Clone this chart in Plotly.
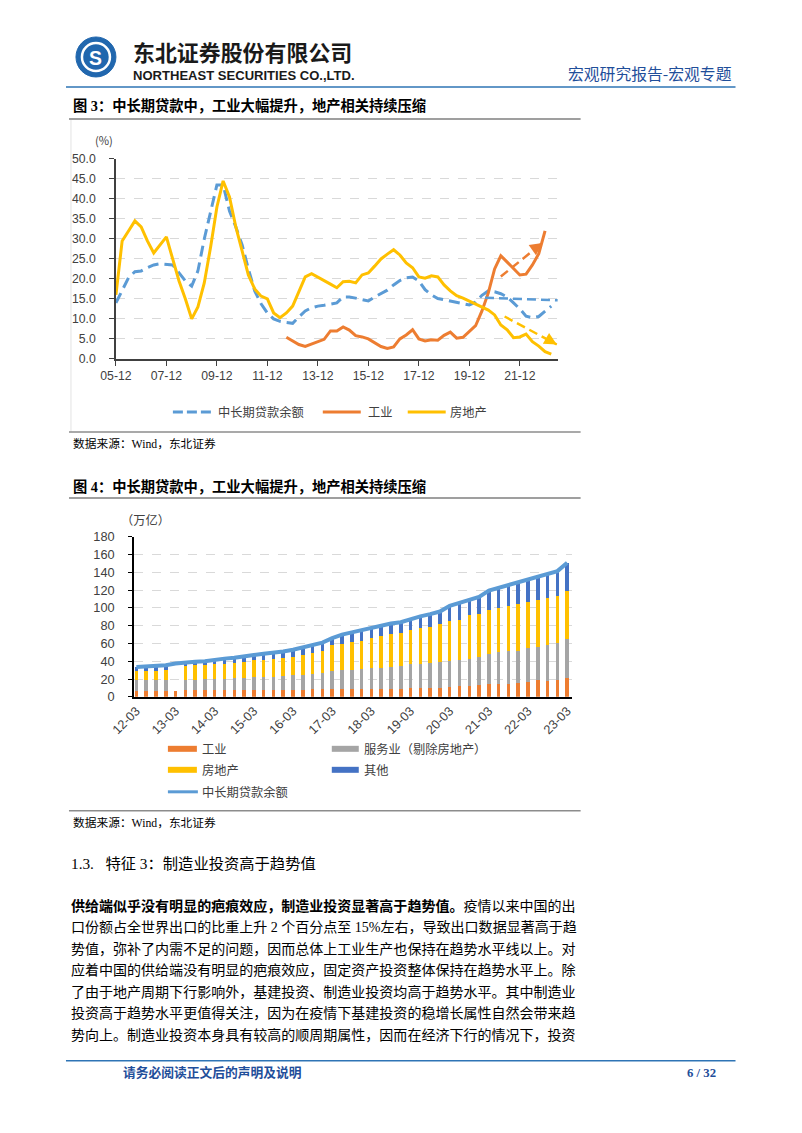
import plotly.graph_objects as go

W, H = 802, 1133

# ---------------- Chart 1 data (quarterly, 2005-12 .. 2023-03) ----------------
q_dates = [f"{2005 + (11 + 3 * i) // 12}-{(11 + 3 * i) % 12 + 1:02d}-01" for i in range(70)]
c1_ticks = ["2005-12-01", "2007-12-01", "2009-12-01", "2011-12-01", "2013-12-01",
            "2015-12-01", "2017-12-01", "2019-12-01", "2021-12-01"]

loan_growth = [14, 17, 20.3, 21.8, 22, 22.8, 23.5, 23.8, 23.7, 23.5,
               21.5, 19.5, 18.2, 22, 30, 37, 43.5, 43.5, 37, 33,
               28.5, 22.5, 17, 13.8, 11.5, 10, 9.4, 9.1, 8.9, 10.5,
               12, 12.8, 13.2, 13.4, 13.7, 14, 15.5, 15.5, 15.2, 14.8,
               14.5, 15.5, 16.4, 17.2, 18.5, 19.6, 20.3, 20.5, 19.5, 17.3,
               16, 15.1, 14.8, 14.5, 14.2, 13.8, 13.5, 14.2, 15.9, 17,
               16.8, 16.3, 15.5, 14, 12.5, 10.7, 10.3, 10.6, 12, 13.2]

industry_growth = [None] * 27 + [
    5.4, 4.5, 3.6, 3.1, 3.7, 4.2, 4.9, 7, 7, 8,
    7.2, 5.8, 5.5, 5, 4, 3.1, 2.6, 3, 5, 6,
    7.3, 5, 4.5, 4.8, 4.7, 5.9, 6.7, 5.2, 5.4, 6.8,
    8.3, 12, 16.5, 22.5, 25.8, 24.2, 22.5, 21, 21.2, 23.5,
    26.3, 32] + [None]

realestate_growth = [16, 29.5, 32, 34.5, 33, 29.5, 26.5, 28.5, 30.5, 25,
                     19.5, 15, 10, 13, 19, 28, 38, 44.5, 40.5, 33,
                     27, 21, 17.5, 15.7, 15, 11.5, 10.3, 11.5, 13.2, 17,
                     20.5, 21.3, 20.5, 19.5, 18.7, 17.8, 19.3, 19.4, 19, 21,
                     21.5, 23.2, 25, 26.2, 27.3, 26, 24, 22.8, 20.5, 20.2,
                     20.8, 20.5, 18.5, 17, 15.8, 15.2, 14.5, 13.8, 13, 12.2,
                     11, 8.5, 7.3, 5.3, 5.5, 6.2, 4.3, 3.2, 1.8, 1.2]

# trend arrows (tail -> head)
arrows = [
    dict(x0="2020-07-15", y0=15.3, x1="2023-08-15", y1=14.6, color="#5B9BD5", ax=-8, ay=0),
    dict(x0="2021-03-01", y0=20.6, x1="2022-10-25", y1=29.0, color="#ED7D31", ax=-7, ay=5),
    dict(x0="2021-04-25", y0=10.6, x1="2023-05-20", y1=3.6, color="#FFC000", ax=-7, ay=-4),
]

# ---------------- Chart 2 data (quarterly, 12-03 .. 23-03) ----------------
q_labels = [f"{12 + i // 4:02d}-{3 * (i % 4) + 3:02d}" for i in range(45)]
c2_ticks = q_labels[::4]

industry = [7, 7, 7, 7, 7, 7.5, 7.5, 7.5, 7.5, 8,
            8, 8, 8, 8, 8, 8, 8, 8, 8.5, 8.5,
            8.5, 8.5, 8.5, 8.5, 8.5, 8.5, 8.5, 8.5, 9.5, 9.5,
            10, 10.5, 11, 12, 12.5, 13, 14, 14, 15, 16,
            17, 18.5, 18, 19, 21]
services = [11.5, 11.5, 11.5, 11.5, None, 12, 12, 12.5, 12.5, 12.5,
            13, 13.5, 14, 14, 14.5, 15.5, 16.5, 17, 17.5, 18.5,
            20.5, 21.5, 22, 23, 23.5, 24, 25, 26, 27, 27.5,
            28, 28.5, 29, 29.5, 30.5, 31.5, 34, 36, 36.5, 36,
            38, 38, 40.5, 42, 44]
realestate = [11, 11, 11, 11.5, None, 15, 16, 15.5, 16.5, 17,
              17, 18, 19, 20, 20.5, 20.5, 20.5, 22, 23, 25,
              29, 30, 31, 31.5, 34.5, 36, 37, 37.5, 39, 40,
              41, 42.5, 45, 45.5, 49, 48.5, 49.5, 50.5, 50.5, 52.5,
              51.5, 53, 53, 52.5, 54]
others = [4, 4.5, 5.5, 5.5, None, 4.5, 4, 4.5, 5.5, 5.5,
          6, 5.5, 6, 6.5, 6.5, 7, 8, 8.5, 8.5, 9,
          8, 10, 11, 12, 11.5, 11.5, 12, 12, 12, 13.5,
          14, 14.5, 17.5, 18.5, 17, 19.5, 22, 22, 23.5, 24,
          25.5, 25.5, 26.5, 28, 32]
total_loans = [33.5, 34, 35, 35.5, 37.5, 39, 39.5, 40, 42, 43,
               44, 45, 47, 48.5, 49.5, 51, 53, 55.5, 57.5, 61,
               66, 70, 72.5, 75, 78, 80, 82.5, 84, 87.5, 90.5,
               93, 96, 102.5, 105.5, 109, 112.5, 119.5, 122.5, 125.5, 128.5,
               132, 135, 138, 141.5, 151]

# ---------------- colours / fonts ----------------
BLUE_L = "#5B9BD5"
ORANGE = "#ED7D31"
YELLOW = "#FFC000"
GRAY = "#A5A5A5"
BLUE_D = "#4472C4"
NAVY = "#1F4E9A"
TXT = "Liberation Serif, Noto Sans CJK SC"
CJK = "Noto Sans CJK SC"
ARIAL = "Liberation Sans"

# page-placement calibration (target picture pixel -> figure fraction)
SX, OX = 0.967, 24.0
SY, OY = 0.987, 6.0
FS = 1.02


def px(x):
    return ((x - OX) / SX) / W


def py(y):
    return 1 - ((y - OY) / SY) / H


def fs(s):
    return round(s * FS, 2)


fig = go.Figure()

# chart 1 traces
fig.add_trace(go.Scatter(x=q_dates, y=loan_growth, mode="lines", name="中长期贷款余额",
                         line=dict(color=BLUE_L, width=3, dash="11px,6px"),
                         xaxis="x", yaxis="y", showlegend=False))
fig.add_trace(go.Scatter(x=q_dates, y=industry_growth, mode="lines", name="工业",
                         line=dict(color=ORANGE, width=3), xaxis="x", yaxis="y",
                         showlegend=False))
fig.add_trace(go.Scatter(x=q_dates, y=realestate_growth, mode="lines", name="房地产",
                         line=dict(color=YELLOW, width=3), xaxis="x", yaxis="y",
                         showlegend=False))

# chart 2 traces
for vals, col, nm in [(industry, ORANGE, "工业"), (services, GRAY, "服务业（剔除房地产）"),
                      (realestate, YELLOW, "房地产"), (others, BLUE_D, "其他")]:
    fig.add_trace(go.Bar(x=q_labels, y=vals, marker=dict(color=col, line=dict(width=0)),
                         name=nm, xaxis="x2", yaxis="y2", showlegend=False))
fig.add_trace(go.Scatter(x=q_labels, y=total_loans, mode="lines", name="中长期贷款余额",
                         line=dict(color=BLUE_L, width=4), xaxis="x2", yaxis="y2",
                         showlegend=False))

shapes = []
ann = []


def hline(x0, x1, y, color, width=1.5, dash="solid"):
    shapes.append(dict(type="line", xref="paper", yref="paper", x0=px(x0), x1=px(x1),
                       y0=py(y), y1=py(y), line=dict(color=color, width=width, dash=dash)))


def vline(x, y0, y1, color, width=1):
    shapes.append(dict(type="line", xref="paper", yref="paper", x0=px(x), x1=px(x),
                       y0=py(y0), y1=py(y1), line=dict(color=color, width=width)))


def rect(x0, x1, y0, y1, color):
    shapes.append(dict(type="rect", xref="paper", yref="paper", x0=px(x0), x1=px(x1),
                       y0=py(y1), y1=py(y0), fillcolor=color, line=dict(width=0)))


def text(x, y, s, size=12, color="#000000", family=TXT, xanchor="left"):
    ann.append(dict(xref="paper", yref="paper", x=px(x), y=py(y), text=s, showarrow=False,
                    xanchor=xanchor, yanchor="middle",
                    font=dict(family=family, size=fs(size), color=color)))


# ---------------- header ----------------
shapes.append(dict(type="circle", xref="paper", yref="paper", x0=px(75), x1=px(115),
                   y0=py(75), y1=py(35), fillcolor="#2167AE", line=dict(color="#2167AE", width=1)))
shapes.append(dict(type="circle", xref="paper", yref="paper", x0=px(81), x1=px(109),
                   y0=py(69), y1=py(41), line=dict(color="white", width=2.5)))
text(95, 56, "<b>S</b>", 19, "white", ARIAL, "center")
text(130, 50, "<b>东北证券股份有限公司</b>", 21.5, "#1a1a1a", CJK)
text(130, 74, "<b>NORTHEAST SECURITIES CO.,LTD.</b>", 12.8, "#1a1a1a", ARIAL)
text(733, 72, "宏观研究报告-宏观专题", 15.5, NAVY, CJK, "right")
hline(65, 735, 85, "#2E74B5", 1.5)

# ---------------- figure 3 ----------------
text(70, 104, "<b>图 3：中长期贷款中，工业大幅提升，地产相关持续压缩</b>", 14, "#000000")
hline(68, 580, 117, "#7f7f7f", 1.5)
vline(70, 118, 430, "#e3e3e3", 1)
hline(68, 580, 430, "#8c8c8c", 1.5)
text(103, 138, "(%)", 11, "#404040", CJK, "center")

# chart 1 legend
hline(172, 210, 410, BLUE_L, 3, "10px,4px")
text(215, 410, "中长期贷款余额", 12, "#404040", CJK)
hline(322, 360, 410, ORANGE, 3)
text(365, 410, "工业", 12, "#404040", CJK)
hline(407, 445, 410, YELLOW, 3)
text(447, 410, "房地产", 12, "#404040", CJK)
text(70, 442, "数据来源：Wind，东北证券", 11.5, "#000000")

# trend arrows (dashed shafts + arrowheads)
for a in arrows:
    shapes.append(dict(type="line", xref="x", yref="y", x0=a["x0"], y0=a["y0"],
                       x1=a["x1"], y1=a["y1"], line=dict(color=a["color"], width=2.5, dash="9px,5px")))
    ann.append(dict(xref="x", yref="y", x=a["x1"], y=a["y1"], ax=a["ax"], ay=a["ay"],
                    text="", showarrow=True, arrowhead=2, arrowsize=1, arrowwidth=2.5,
                    arrowcolor=a["color"], standoff=0))

# ---------------- figure 4 ----------------
text(70, 485, "<b>图 4：中长期贷款中，工业大幅提升，地产相关持续压缩</b>", 14, "#000000")
hline(68, 580, 496, "#7f7f7f", 1.5)
text(118, 518, "（万亿）", 12, "#404040", CJK)

# chart 2 legend
rect(167, 196, 744, 750, ORANGE)
text(199, 747, "工业", 12, "#404040", CJK)
rect(331, 358, 744, 750, GRAY)
text(361, 747, "服务业（剔除房地产）", 12, "#404040", CJK)
rect(167, 196, 765, 771, YELLOW)
text(199, 768, "房地产", 12, "#404040", CJK)
rect(331, 358, 765, 771, BLUE_D)
text(361, 768, "其他", 12, "#404040", CJK)
hline(167, 197, 790, BLUE_L, 3)
text(199, 790, "中长期贷款余额", 12, "#404040", CJK)
hline(68, 580, 809, "#8c8c8c", 1.5)
text(70, 821, "数据来源：Wind，东北证券", 11.5, "#000000")

# ---------------- body text ----------------
text(68, 862, "1.3.&nbsp;&nbsp;&nbsp;特征 3：制造业投资高于趋势值", 15, "#000000")
body = [
    "<b>供给端似乎没有明显的疤痕效应，制造业投资显著高于趋势值。</b>疫情以来中国的出",
    "口份额占全世界出口的比重上升 2 个百分点至 15%左右，导致出口数据显著高于趋",
    "势值，弥补了内需不足的问题，因而总体上工业生产也保持在趋势水平线以上。对",
    "应着中国的供给端没有明显的疤痕效应，固定资产投资整体保持在趋势水平上。除",
    "了由于地产周期下行影响外，基建投资、制造业投资均高于趋势水平。其中制造业",
    "投资高于趋势水平更值得关注，因为在疫情下基建投资的稳增长属性自然会带来趋",
    "势向上。制造业投资本身具有较高的顺周期属性，因而在经济下行的情况下，投资",
]
for i, line in enumerate(body):
    text(68, 904 + i * 21.5, line, 13.75, "#000000")

# ---------------- footer ----------------
hline(65, 735, 1059, "#2E74B5", 1.5)
text(120, 1071, "<b>请务必阅读正文后的声明及说明</b>", 12.5, NAVY)
text(717, 1071, "<b>6 / 32</b>", 12.5, NAVY, "Liberation Serif", "right")

axis_font = dict(family=ARIAL, size=fs(12), color="#404040")

fig.update_layout(
    width=W, height=H, margin=dict(l=0, r=0, t=0, b=0),
    paper_bgcolor="white", plot_bgcolor="white",
    barmode="stack", bargap=0.64,
    shapes=shapes, annotations=ann,
    xaxis=dict(domain=[px(115), px(557)], anchor="y", type="date",
               range=["2005-12-01", "2023-06-01"], tickvals=c1_ticks, tickformat="%y-%m",
               ticks="outside", ticklen=5, tickcolor="#404040", showline=True,
               linecolor="#404040", linewidth=1.5, showgrid=False, zeroline=False,
               tickfont=axis_font),
    yaxis=dict(domain=[py(357), py(157)], anchor="x", range=[0, 50], dtick=5,
               tickformat=".1f", showgrid=True, gridcolor="#d9d9d9", griddash="dash",
               gridwidth=1, showline=True, linecolor="#404040", linewidth=1.5,
               ticks="outside", ticklen=5, tickcolor="#404040", zeroline=False,
               ticklabelstandoff=11, tickfont=axis_font),
    xaxis2=dict(domain=[px(133), px(571)], anchor="y2", type="category",
                range=[-0.25, 44.45], tickvals=c2_ticks, tickangle=-45,
                showline=True, linecolor="#000000", linewidth=1.5, showgrid=False,
                zeroline=False, ticks="",
                tickfont=dict(family=ARIAL, size=fs(12.5), color="#404040")),
    yaxis2=dict(domain=[py(695), py(535)], anchor="x2", range=[0, 180], dtick=20,
                showgrid=True, gridcolor="#d9d9d9", griddash="dash", gridwidth=1,
                showline=True, linecolor="#000000", linewidth=1.5, ticks="outside",
                ticklen=4, tickcolor="#000000", zeroline=False, ticklabelstandoff=11,
                tickfont=dict(family=ARIAL, size=fs(12.5), color="#404040")),
)

fig.write_html("out.html")
